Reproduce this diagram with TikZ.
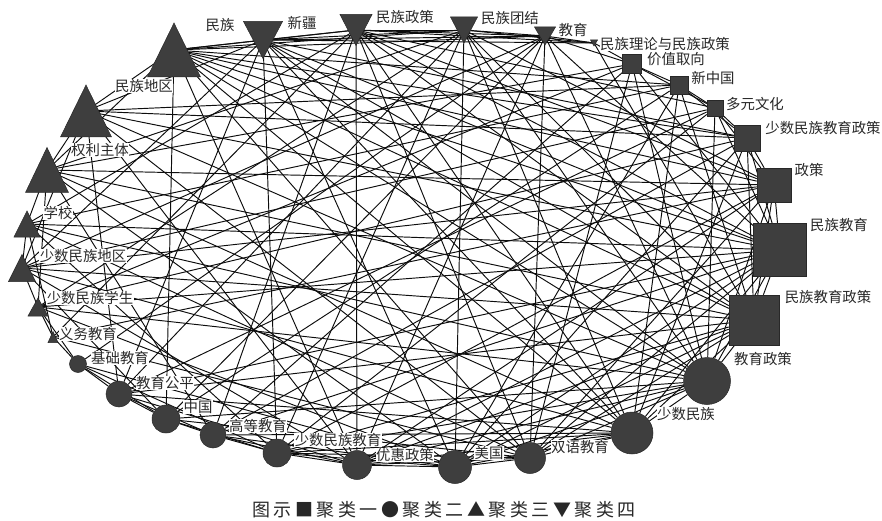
\documentclass[tikz,border=0pt]{standalone}
\usepackage{fontspec}
\newfontfamily\cjk{Noto Sans CJK SC}
\definecolor{nodegray}{RGB}{62,62,62}
\definecolor{nodeedge}{RGB}{40,40,40}
\definecolor{labtext}{RGB}{40,40,40}
\pgfdeclarelayer{edges}
\pgfsetlayers{edges,main}
\tikzset{
  nd/.style={fill=nodegray, draw=nodeedge, line width=0.5pt, inner sep=0pt},
  sq/.style={nd, rectangle, minimum size=#1},
  cir/.style={nd, circle, minimum size=#1},
  lab/.style={font=\cjk\fontsize{14.4}{16}\selectfont, text=labtext, fill=white, inner sep=0.6pt},
  lnk/.style={draw=black!95, line width=0.95pt},
}
\newcommand\uptri[5]{\coordinate (#1) at (#2,#3);
  \filldraw[nd] ({#2-#4/2},{#3+#5/2}) -- ({#2+#4/2},{#3+#5/2}) -- ({#2},{#3-#5/2}) -- cycle;}
\newcommand\dntri[5]{\coordinate (#1) at (#2,#3);
  \filldraw[nd] ({#2-#4/2},{#3-#5/2}) -- ({#2+#4/2},{#3-#5/2}) -- ({#2},{#3+#5/2}) -- cycle;}
\newcommand\gs{\hspace{3.5pt}}
\begin{document}
\begin{tikzpicture}[x=1pt,y=-1pt]
\useasboundingbox (0,0) rectangle (882,521);
\begin{pgfonlayer}{edges}
\fill[white] (0,0) rectangle (882,521);
\end{pgfonlayer}
% triangles (cluster three)
\uptri{n1}{174}{50}{53}{54}
\uptri{n29}{86}{111}{51}{52}
\uptri{n28}{47}{170}{43}{45}
\uptri{n27}{27}{224}{26}{26}
\uptri{n26}{22}{268}{27}{27}
\uptri{n25}{38}{307}{20}{18}
\uptri{n24}{53}{337}{10}{11}
% inverted triangles (cluster four)
\dntri{n2}{263}{40}{39}{37}
\dntri{n3}{356}{30}{32}{31}
\dntri{n4}{464}{30}{27}{26}
\dntri{n5}{545}{36}{21}{18}
\dntri{n6}{594}{43}{7}{6}
% squares (cluster one)
\node[sq=19pt] (n7) at (632,64) {};
\node[sq=18pt] (n8) at (679,85) {};
\node[sq=16pt] (n9) at (715,108) {};
\node[sq=26pt] (n10) at (747,138) {};
\node[sq=34pt] (n11) at (774,185) {};
\node[sq=53pt] (n12) at (780,250) {};
\node[sq=50pt] (n13) at (754,320) {};
% circles (cluster two)
\node[cir=47pt] (n14) at (707,381) {};
\node[cir=42pt] (n15) at (632,433) {};
\node[cir=31pt] (n16) at (530,458) {};
\node[cir=33pt] (n17) at (455,467) {};
\node[cir=29pt] (n18) at (357,465) {};
\node[cir=28pt] (n19) at (277,453) {};
\node[cir=26pt] (n20) at (213,435) {};
\node[cir=28pt] (n21) at (166,419) {};
\node[cir=26pt] (n22) at (119,394) {};
\node[cir=17pt] (n23) at (78,364) {};
% edges
\begin{pgfonlayer}{edges}
\foreach \b in {2,3,4,5,8,10,11,12,13,14,15,16,18,21,28,29} \draw[lnk] (n1) -- (n\b);
\foreach \b in {3,4,5,6,10,12,13,14,15,17,19,22,26,29} \draw[lnk] (n2) -- (n\b);
\foreach \b in {4,5,6,9,11,12,13,15,16,18,20,24,27} \draw[lnk] (n3) -- (n\b);
\foreach \b in {5,6,11,13,14,15,17,19,22,25,28} \draw[lnk] (n4) -- (n\b);
\foreach \b in {6,7,12,14,16,18,21,23,26} \draw[lnk] (n5) -- (n\b);
\foreach \b in {7,13} \draw[lnk] (n6) -- (n\b);
\foreach \b in {8,9,12,14,16,20,25,28} \draw[lnk] (n7) -- (n\b);
\foreach \b in {9,10,13,15,17,21,27,29} \draw[lnk] (n8) -- (n\b);
\foreach \b in {10,11,12,14,19,22,26} \draw[lnk] (n9) -- (n\b);
\foreach \b in {11,12,13,15,17,20,25,29} \draw[lnk] (n10) -- (n\b);
\foreach \b in {12,13,14,16,18,19,24,26,28} \draw[lnk] (n11) -- (n\b);
\foreach \b in {13,14,15,16,17,18,20,22,25,27,29} \draw[lnk] (n12) -- (n\b);
\foreach \b in {14,15,16,17,18,19,22,26,28} \draw[lnk] (n13) -- (n\b);
\foreach \b in {15,16,17,18,19,21,25,27,29} \draw[lnk] (n14) -- (n\b);
\foreach \b in {16,17,18,19,20,22,26,28} \draw[lnk] (n15) -- (n\b);
\foreach \b in {17,18,19,21,24,27,29} \draw[lnk] (n16) -- (n\b);
\foreach \b in {18,19,20,23,25,28} \draw[lnk] (n17) -- (n\b);
\foreach \b in {19,20,22,26,29} \draw[lnk] (n18) -- (n\b);
\foreach \b in {20,21,23,27} \draw[lnk] (n19) -- (n\b);
\foreach \b in {21,22,28} \draw[lnk] (n20) -- (n\b);
\foreach \b in {22,23,26} \draw[lnk] (n21) -- (n\b);
\foreach \b in {23,29} \draw[lnk] (n22) -- (n\b);
\foreach \b in {24,25} \draw[lnk] (n23) -- (n\b);
\foreach \b in {25,27} \draw[lnk] (n24) -- (n\b);
\foreach \b in {26,28} \draw[lnk] (n25) -- (n\b);
\foreach \b in {27,29} \draw[lnk] (n26) -- (n\b);
\draw[lnk] (n27) -- (n28);
\draw[lnk] (n28) -- (n29);
\end{pgfonlayer}
% labels
\node[lab] (l1) at (220,25) {民族};
\node[lab] (l2) at (302,23) {新疆};
\node[lab] (l3) at (405,17) {民族政策};
\node[lab] (l4) at (510,18) {民族团结};
\node[lab] (l5) at (573,30) {教育};
\node[lab] (l6) at (665,44) {民族理论与民族政策};
\node[lab] (l7) at (676,59) {价值取向};
\node[lab] (l8) at (713,78) {新中国};
\node[lab] (l9) at (755,104) {多元文化};
\node[lab] (l10) at (823,128) {少数民族教育政策};
\node[lab] (l11) at (809,170) {政策};
\node[lab] (l12) at (839,225) {民族教育};
\node[lab] (l13) at (828,297) {民族教育政策};
\node[lab] (l14) at (763,359) {教育政策};
\node[lab] (l15) at (686,414) {少数民族};
\node[lab] (l16) at (580,447) {双语教育};
\node[lab] (l17) at (489,453) {美国};
\node[lab] (l18) at (405,455) {优惠政策};
\node[lab] (l19) at (338,440) {少数民族教育};
\node[lab] (l20) at (258,426) {高等教育};
\node[lab] (l21) at (198,407) {中国};
\node[lab] (l22) at (165,383) {教育公平};
\node[lab] (l23) at (120,358) {基础教育};
\node[lab] (l24) at (88,334) {义务教育};
\node[lab] (l25) at (90,298) {少数民族学生};
\node[lab] (l26) at (83,256) {少数民族地区};
\node[lab] (l27) at (58,213) {学校};
\node[lab] (l28) at (100,150) {权利主体};
\node[lab] (l29) at (144,86) {民族地区};
% legend
\node[font=\cjk\fontsize{18}{20}\selectfont, text=labtext, inner sep=0pt] (legend) at (444,510)
  {图\gs 示\gs ■\gs 聚\gs 类\gs 一\gs ●\gs 聚\gs 类\gs 二\gs ▲\gs 聚\gs 类\gs 三\gs ▼\gs 聚\gs 类\gs 四};
\end{tikzpicture}
\end{document}
